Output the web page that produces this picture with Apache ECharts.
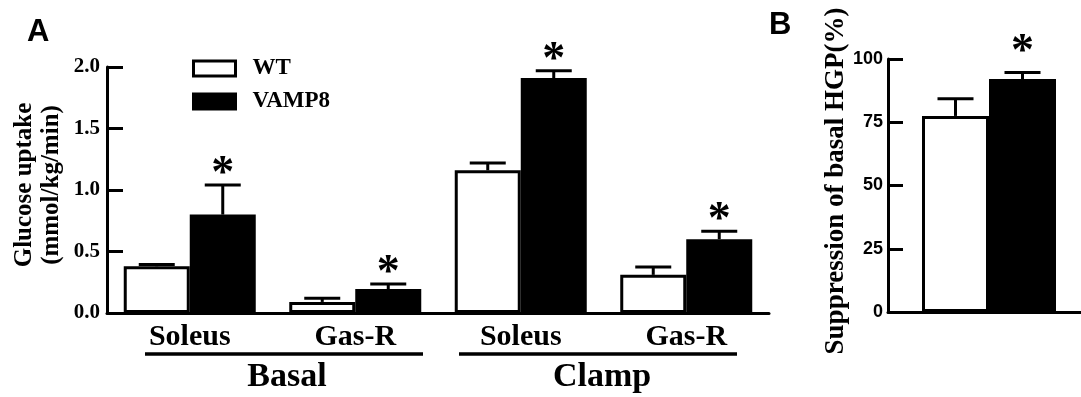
<!DOCTYPE html>
<html>
<head>
<meta charset="utf-8">
<script src="https://cdn.jsdelivr.net/npm/echarts@6/dist/echarts.min.js"></script>
<style>
html,body{margin:0;padding:0;background:#fff;}
#c{width:1081px;height:397px;}
</style>
</head>
<body>
<div id="c"></div>
<script>
// ---- data ----
const CATEGORIES = ['Soleus', 'Gas-R', 'Soleus', 'Gas-R'];
const GROUPS = ['Basal', 'Clamp'];
const WT_MEAN = [0.38, 0.09, 1.16, 0.31];
const WT_SEM = [0.015, 0.03, 0.06, 0.065];
const WT_SIG = [0, 0, 0, 0];
const VAMP8_MEAN = [0.80, 0.195, 1.91, 0.60];
const VAMP8_SEM = [0.24, 0.04, 0.06, 0.065];
const VAMP8_SIG = [1, 1, 1, 1];
const HGP_CAT = [''];
const HGP_WT_MEAN = [77.5];
const HGP_WT_SEM = [6.8];
const HGP_WT_SIG = [0];
const HGP_VAMP8_MEAN = [92.1];
const HGP_VAMP8_SEM = [2.6];
const HGP_VAMP8_SIG = [1];
const SERIES_NAMES = ['WT', 'VAMP8'];

const SERIF = '"Liberation Serif", "Times New Roman", serif';
const SANS = '"Liberation Sans", Arial, sans-serif';
const BAR_A = 66, BAR_B = 67;

function errData(means, sems, sigs, side) {
  return means.map((m, i) => [i, m, sems[i], side, sigs[i]]);
}
function errRender(barW, capW, starOff) {
  return function (params, api) {
    const cat = api.value(0), mean = api.value(1), sem = api.value(2);
    const side = api.value(3), sig = api.value(4);
    const p0 = api.coord([cat, mean]);
    const p1 = api.coord([cat, mean + sem]);
    const cx = p0[0] + side * barW / 2;
    const children = [
      { type: 'line', shape: { x1: cx, y1: p0[1], x2: cx, y2: p1[1] }, style: { stroke: '#000', lineWidth: 3 } },
      { type: 'line', shape: { x1: cx - capW / 2, y1: p1[1], x2: cx + capW / 2, y2: p1[1] }, style: { stroke: '#000', lineWidth: 3 } }
    ];
    if (sig) {
      children.push({ type: 'text', x: cx, y: p1[1] - starOff,
        style: { text: '*', font: 'bold 46px ' + SERIF, align: 'center', verticalAlign: 'middle', fill: '#000' } });
    }
    return { type: 'group', children: children };
  };
}

const chart = echarts.init(document.getElementById('c'), null, { renderer: 'canvas' });
const axisLineStyle = { show: true, lineStyle: { color: '#000', width: 3 } };

const option = {
  backgroundColor: '#fff',
  animation: false,
  grid: [
    { left: 107, top: 67, width: 662, height: 246, outerBoundsMode: 'none', containLabel: false },
    { left: 888, top: 59, width: 202, height: 253, outerBoundsMode: 'none', containLabel: false }
  ],
  legend: {
    data: SERIES_NAMES,
    orient: 'vertical',
    icon: 'rect',
    left: 187, top: 52,
    itemWidth: 42, itemHeight: 15, itemGap: 10,
    itemStyle: { borderWidth: 3, borderColor: '#000' },
    textStyle: { fontFamily: SERIF, fontWeight: 'bold', fontSize: 23, color: '#000', padding: [0, 0, 0, 12] }
  },
  xAxis: [
    { type: 'category', gridIndex: 0, data: CATEGORIES, axisLine: axisLineStyle, axisTick: { show: false },
      axisLabel: { fontFamily: SERIF, fontWeight: 'bold', fontSize: 30, color: '#000', margin: 9 } },
    { type: 'category', gridIndex: 1, data: HGP_CAT, axisLine: axisLineStyle, axisTick: { show: false },
      axisLabel: { show: false } }
  ],
  yAxis: [
    { type: 'value', gridIndex: 0, min: 0, max: 2, interval: 0.5, axisLine: axisLineStyle,
      axisTick: { show: true, inside: true, length: 16, lineStyle: { color: '#000', width: 3 } },
      splitLine: { show: false },
      axisLabel: { fontFamily: SERIF, fontWeight: 'bold', fontSize: 21, color: '#000', margin: 7,
        formatter: v => v.toFixed(1) } },
    { type: 'value', gridIndex: 1, min: 0, max: 100, interval: 25, axisLine: axisLineStyle,
      axisTick: { show: true, inside: true, length: 15, lineStyle: { color: '#000', width: 3 } },
      splitLine: { show: false },
      axisLabel: { fontFamily: SANS, fontWeight: 'bold', fontSize: 18, color: '#000', margin: 5 } }
  ],
  series: [
    { name: 'WT', type: 'bar', xAxisIndex: 0, yAxisIndex: 0, data: WT_MEAN, barWidth: BAR_A, barGap: '0%',
      itemStyle: { color: '#fff', borderColor: '#000', borderWidth: 3 } },
    { name: 'VAMP8', type: 'bar', xAxisIndex: 0, yAxisIndex: 0, data: VAMP8_MEAN, barWidth: BAR_A, barGap: '0%',
      itemStyle: { color: '#000', borderColor: '#000', borderWidth: 3 } },
    { name: 'WT', type: 'bar', xAxisIndex: 1, yAxisIndex: 1, data: HGP_WT_MEAN, barWidth: BAR_B, barGap: '0%',
      itemStyle: { color: '#fff', borderColor: '#000', borderWidth: 3 } },
    { name: 'VAMP8', type: 'bar', xAxisIndex: 1, yAxisIndex: 1, data: HGP_VAMP8_MEAN, barWidth: BAR_B, barGap: '0%',
      itemStyle: { color: '#000', borderColor: '#000', borderWidth: 3 } },
    { name: 'errWT', type: 'custom', xAxisIndex: 0, yAxisIndex: 0, z: 5,
      renderItem: errRender(BAR_A, 36, 10), data: errData(WT_MEAN, WT_SEM, WT_SIG, -1) },
    { name: 'errVAMP8', type: 'custom', xAxisIndex: 0, yAxisIndex: 0, z: 5,
      renderItem: errRender(BAR_A, 36, 10), data: errData(VAMP8_MEAN, VAMP8_SEM, VAMP8_SIG, 1) },
    { name: 'errHGPWT', type: 'custom', xAxisIndex: 1, yAxisIndex: 1, z: 5,
      renderItem: errRender(BAR_B, 36, 19), data: errData(HGP_WT_MEAN, HGP_WT_SEM, HGP_WT_SIG, -1) },
    { name: 'errHGPVAMP8', type: 'custom', xAxisIndex: 1, yAxisIndex: 1, z: 5,
      renderItem: errRender(BAR_B, 36, 19), data: errData(HGP_VAMP8_MEAN, HGP_VAMP8_SEM, HGP_VAMP8_SIG, 1) }
  ],
  graphic: [
    { type: 'text', x: 27, y: 32, style: { text: 'A', font: 'bold 31px ' + SANS, align: 'left', verticalAlign: 'middle', fill: '#000' } },
    { type: 'text', x: 769, y: 25, style: { text: 'B', font: 'bold 31px ' + SANS, align: 'left', verticalAlign: 'middle', fill: '#000' } },
    { type: 'text', x: 38, y: 185, rotation: Math.PI / 2,
      style: { text: 'Glucose uptake\n(mmol/kg/min)', font: 'bold 25px ' + SERIF, lineHeight: 27, align: 'center', verticalAlign: 'middle', fill: '#000' } },
    { type: 'text', x: 836, y: 181, rotation: Math.PI / 2,
      style: { text: 'Suppression of basal HGP(%)', font: 'bold 27px ' + SERIF, align: 'center', verticalAlign: 'middle', fill: '#000' } },
    { type: 'line', shape: { x1: 145, y1: 354, x2: 423, y2: 354 }, style: { stroke: '#000', lineWidth: 3.5 } },
    { type: 'line', shape: { x1: 459, y1: 354, x2: 737, y2: 354 }, style: { stroke: '#000', lineWidth: 3.5 } },
    { type: 'text', x: 287, y: 377, style: { text: GROUPS[0], font: 'bold 34px ' + SERIF, align: 'center', verticalAlign: 'middle', fill: '#000' } },
    { type: 'text', x: 602, y: 377, style: { text: GROUPS[1], font: 'bold 34px ' + SERIF, align: 'center', verticalAlign: 'middle', fill: '#000' } }
  ]
};
chart.setOption(option);
</script>
</body>
</html>
